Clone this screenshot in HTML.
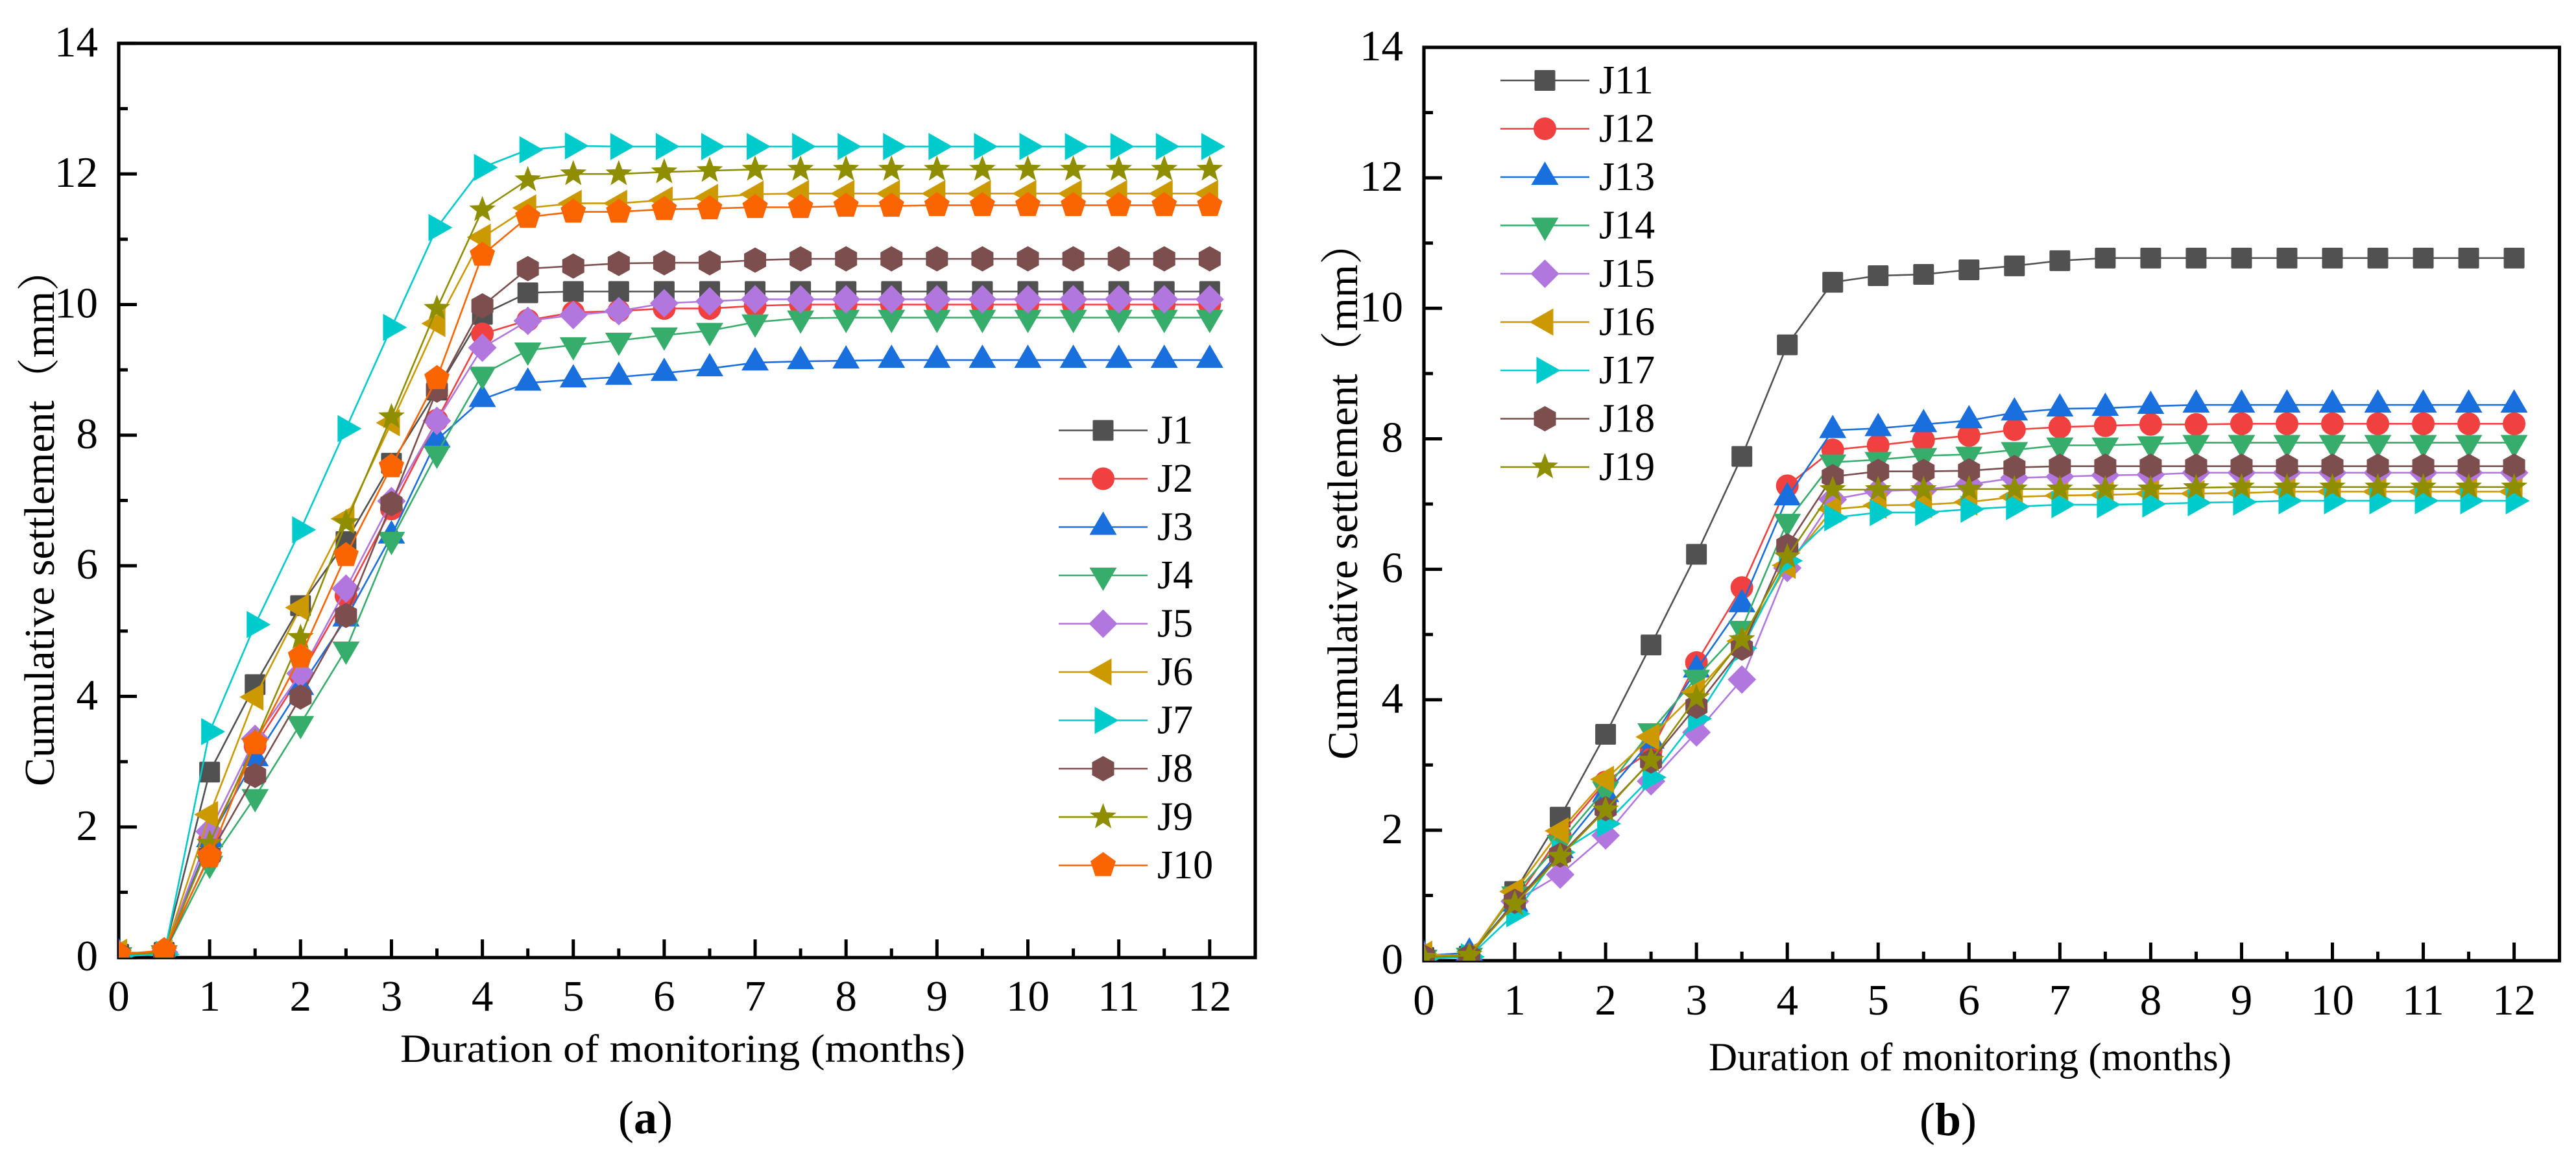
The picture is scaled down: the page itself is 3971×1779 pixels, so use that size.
<!DOCTYPE html>
<html lang="en">
<head>
<meta charset="utf-8">
<title>Cumulative settlement vs. duration of monitoring</title>
<style>
html,body{margin:0;padding:0;background:#fff;}
svg{display:block;}
text{font-family:"Liberation Serif","Noto Serif CJK SC",serif;fill:#000;}
</style>
</head>
<body>
<svg id="figure" xmlns="http://www.w3.org/2000/svg" width="3971" height="1779" viewBox="0 0 3971 1779">
  <rect x="0" y="0" width="3971" height="1779" fill="#fff"/>
  <defs>
    <clipPath id="clip-a"><rect x="183" y="66.8" width="1752" height="1409.4"/></clipPath>
    <clipPath id="clip-b"><rect x="2195" y="73" width="1750.5" height="1408"/></clipPath>
  </defs>
  <g id="panel-a"></g>
  <g id="panel-b"></g>

  <text x="617" y="1637" font-size="61" textLength="871" lengthAdjust="spacingAndGlyphs">Duration of monitoring (months)</text>
  <text transform="translate(83,1212) rotate(-90)" font-size="66" textLength="829" lengthAdjust="spacingAndGlyphs">Cumulative settlement（mm）</text>
  <text x="953" y="1747" font-size="72">(<tspan font-weight="bold">a</tspan>)</text>

  <text x="2634" y="1650" font-size="61" textLength="806" lengthAdjust="spacingAndGlyphs">Duration of monitoring (months)</text>
  <text transform="translate(2092,1171) rotate(-90)" font-size="66" textLength="829" lengthAdjust="spacingAndGlyphs">Cumulative settlement（mm）</text>
  <text x="2959" y="1750" font-size="72">(<tspan font-weight="bold">b</tspan>)</text>
</svg>
<script>
const months = [0,0.5,1,1.5,2,2.5,3,3.5,4,4.5,5,5.5,6,6.5,7,7.5,8,8.5,9,9.5,10,10.5,11,11.5,12];
const xTickMajor = [0,1,2,3,4,5,6,7,8,9,10,11,12];
const xTickMinor = [0.5,1.5,2.5,3.5,4.5,5.5,6.5,7.5,8.5,9.5,10.5,11.5];
const yTickMajor = [0,2,4,6,8,10,12,14];
const yTickMinor = [1,3,5,7,9,11,13];

const J1  = [0.05,0.08,2.84,4.18,5.39,6.37,7.57,8.69,9.85,10.18,10.2,10.2,10.2,10.2,10.2,10.2,10.2,10.2,10.2,10.2,10.2,10.2,10.2,10.2,10.2];
const J2  = [0.05,0.08,1.81,3.24,4.32,5.54,6.87,8.23,9.55,9.76,9.88,9.9,9.94,9.94,9.98,10.0,10.0,10.0,10.0,10.0,10.0,10.0,10.0,10.0,10.0];
const J3  = [0.06,0.06,1.81,3.05,4.14,5.19,6.46,7.93,8.55,8.8,8.85,8.89,8.95,9.02,9.11,9.13,9.14,9.15,9.15,9.15,9.15,9.15,9.15,9.15,9.15];
const J4  = [0.04,0.07,1.44,2.46,3.58,4.72,6.4,7.72,8.93,9.3,9.38,9.45,9.53,9.6,9.73,9.79,9.8,9.8,9.8,9.8,9.8,9.8,9.8,9.8,9.8];
const J5  = [0.05,0.08,1.93,3.35,4.35,5.65,6.99,8.22,9.34,9.75,9.84,9.9,10.02,10.05,10.08,10.08,10.08,10.08,10.08,10.08,10.08,10.08,10.08,10.08,10.08];
const J6  = [0.08,0.07,2.19,3.99,5.36,6.72,8.19,9.71,11.03,11.48,11.55,11.55,11.6,11.64,11.69,11.7,11.7,11.7,11.7,11.7,11.7,11.7,11.7,11.7,11.7];
const J7  = [0.02,0.05,3.46,5.1,6.55,8.1,9.65,11.18,12.1,12.37,12.43,12.42,12.42,12.42,12.42,12.42,12.42,12.42,12.42,12.42,12.42,12.42,12.42,12.42,12.42];
const J8  = [0.05,0.08,1.57,2.79,3.99,5.24,6.95,8.69,9.98,10.55,10.59,10.63,10.64,10.64,10.68,10.7,10.7,10.7,10.7,10.7,10.7,10.7,10.7,10.7,10.7];
const J9  = [0.05,0.08,1.75,3.3,4.9,6.66,8.28,9.94,11.45,11.91,12.0,12.0,12.03,12.05,12.07,12.07,12.07,12.07,12.07,12.07,12.07,12.07,12.07,12.07,12.07];
const J10 = [0.05,0.11,1.55,3.28,4.61,6.16,7.52,8.87,10.76,11.34,11.42,11.42,11.46,11.47,11.49,11.49,11.51,11.51,11.52,11.52,11.52,11.52,11.52,11.52,11.52];

const J11 = [0.05,0.07,1.06,2.2,3.47,4.84,6.23,7.73,9.44,10.4,10.5,10.52,10.59,10.65,10.73,10.77,10.77,10.77,10.77,10.77,10.77,10.77,10.77,10.77,10.77];
const J12 = [0.05,0.07,0.91,1.92,2.74,3.22,4.57,5.72,7.28,7.83,7.9,7.98,8.05,8.14,8.18,8.2,8.22,8.22,8.23,8.23,8.23,8.23,8.23,8.23,8.23];
const J13 = [0.08,0.12,0.87,1.69,2.55,3.37,4.46,5.46,7.1,8.13,8.16,8.22,8.28,8.4,8.46,8.47,8.5,8.52,8.52,8.52,8.52,8.52,8.52,8.52,8.52];
const J14 = [0.05,0.08,1.02,1.81,2.63,3.52,4.34,5.09,6.73,7.64,7.68,7.74,7.76,7.83,7.9,7.9,7.92,7.94,7.94,7.94,7.94,7.94,7.94,7.94,7.94];
const J15 = [0.06,0.06,0.91,1.32,1.92,2.75,3.5,4.31,6.02,7.07,7.2,7.22,7.3,7.4,7.42,7.44,7.45,7.48,7.48,7.48,7.48,7.48,7.48,7.48,7.48];
const J16 = [0.1,0.07,1.06,1.99,2.78,3.43,4.12,4.9,6.06,6.92,6.98,6.99,7.03,7.11,7.13,7.14,7.16,7.16,7.17,7.19,7.19,7.19,7.19,7.19,7.19];
const J17 = [0.03,0.06,0.72,1.66,2.1,2.81,3.71,4.79,6.13,6.79,6.87,6.87,6.92,6.96,6.99,6.99,7.0,7.02,7.03,7.05,7.05,7.05,7.05,7.05,7.05];
const J18 = [0.06,0.07,0.91,1.62,2.33,3.06,3.9,4.79,6.36,7.42,7.5,7.5,7.51,7.56,7.58,7.58,7.58,7.58,7.58,7.58,7.58,7.58,7.58,7.58,7.58];
const J19 = [0.05,0.08,0.87,1.6,2.31,3.07,4.03,4.92,6.19,7.22,7.22,7.22,7.23,7.23,7.23,7.23,7.23,7.25,7.26,7.26,7.26,7.26,7.26,7.26,7.26];

const seriesNamesA = ['J1','J2','J3','J4','J5','J6','J7','J8','J9','J10'];
const seriesValuesA = [J1,J2,J3,J4,J5,J6,J7,J8,J9,J10];
const seriesNamesB = ['J11','J12','J13','J14','J15','J16','J17','J18','J19'];
const seriesValuesB = [J11,J12,J13,J14,J15,J16,J17,J18,J19];

const palette = ['#515151','#F14040','#1A6FDF','#37AD6B','#B177DE','#CC9900','#00CBCC','#7D4E4E','#8E8E00','#FB6501'];
const shapes = ['square','circle','up','down','diamond','left','right','hexagon','star','pentagon'];

const NS = 'http://www.w3.org/2000/svg';

function regularPolygon(n, r, startDeg) {
  const pts = [];
  for (let i = 0; i < n; i++) {
    const a = (startDeg + i * 360 / n) * Math.PI / 180;
    pts.push((r * Math.cos(a)).toFixed(2) + ',' + (r * Math.sin(a)).toFixed(2));
  }
  return pts.join(' ');
}
function starPolygon(rOuter, rInner) {
  const pts = [];
  for (let i = 0; i < 10; i++) {
    const a = (-90 + i * 36) * Math.PI / 180;
    const r = i % 2 === 0 ? rOuter : rInner;
    pts.push((r * Math.cos(a)).toFixed(2) + ',' + (r * Math.sin(a)).toFixed(2));
  }
  return pts.join(' ');
}
const shapePoints = {
  up: '0,-24 21,12 -21,12',
  down: '0,24 21,-12 -21,-12',
  left: '-24,0 13,-21 13,21',
  right: '24,0 -13,-21 -13,21',
  diamond: '0,-22 22,0 0,22 -22,0',
  hexagon: '0,-19.5 17,-10 17,10 0,19.5 -17,10 -17,-10',
  pentagon: regularPolygon(5, 20.5, -90),
  star: starPolygon(21.5, 9)
};

function makeMarker(shape, colour, px, py) {
  let el;
  if (shape === 'square') {
    el = document.createElementNS(NS, 'rect');
    el.setAttribute('x', -16);
    el.setAttribute('y', -16);
    el.setAttribute('width', 32);
    el.setAttribute('height', 32);
    el.setAttribute('rx', 2);
  } else if (shape === 'circle') {
    el = document.createElementNS(NS, 'circle');
    el.setAttribute('r', 17.5);
  } else {
    el = document.createElementNS(NS, 'polygon');
    el.setAttribute('points', shapePoints[shape]);
  }
  el.setAttribute('fill', colour);
  el.setAttribute('transform', 'translate(' + px.toFixed(2) + ',' + py.toFixed(2) + ')');
  return el;
}

function drawLine(parent, x1, y1, x2, y2, width, colour) {
  const el = document.createElementNS(NS, 'line');
  el.setAttribute('x1', x1);
  el.setAttribute('y1', y1);
  el.setAttribute('x2', x2);
  el.setAttribute('y2', y2);
  el.setAttribute('stroke', colour);
  el.setAttribute('stroke-width', width);
  parent.appendChild(el);
  return el;
}

function drawPanel(panelId, clipId, frame, names, values) {
  const root = document.getElementById(panelId);
  const xScale = v => frame.x0 + frame.xUnit * v;
  const yScale = v => frame.y0 - frame.yUnit * v;

  const axes = document.createElementNS(NS, 'g');
  
  
  root.appendChild(axes);

  const frameRect = document.createElementNS(NS, 'rect');
  frameRect.setAttribute('x', frame.x0);
  frameRect.setAttribute('y', yScale(14));
  frameRect.setAttribute('width', frame.right - frame.x0);
  frameRect.setAttribute('height', frame.y0 - yScale(14));
  frameRect.setAttribute('fill', 'none');
  frameRect.setAttribute('stroke', '#000');
  frameRect.setAttribute('stroke-width', 5.2);
  
  
  axes.appendChild(frameRect);

  xTickMajor.forEach(v => {
    const tick = drawLine(axes, xScale(v), frame.y0, xScale(v), frame.y0 - 28, 5, '#000');
    
    
    const label = document.createElementNS(NS, 'text');
    label.setAttribute('x', xScale(v));
    label.setAttribute('y', frame.xLabelY);
    label.setAttribute('font-size', 67);
    label.setAttribute('text-anchor', 'middle');
    
    
    label.textContent = String(v);
    axes.appendChild(label);
  });
  xTickMinor.forEach(v => {
    const tick = drawLine(axes, xScale(v), frame.y0, xScale(v), frame.y0 - 14, 5, '#000');
    
    
  });
  yTickMajor.forEach(v => {
    const tick = drawLine(axes, frame.x0, yScale(v), frame.x0 + 28, yScale(v), 5, '#000');
    
    
    const label = document.createElementNS(NS, 'text');
    label.setAttribute('x', frame.yLabelX);
    label.setAttribute('y', yScale(v) + 20);
    label.setAttribute('font-size', 67);
    label.setAttribute('text-anchor', 'end');
    
    
    label.textContent = String(v);
    axes.appendChild(label);
  });
  yTickMinor.forEach(v => {
    const tick = drawLine(axes, frame.x0, yScale(v), frame.x0 + 14, yScale(v), 5, '#000');
    
    
  });

  const plot = document.createElementNS(NS, 'g');
  plot.setAttribute('clip-path', 'url(#' + clipId + ')');
  
  
  root.appendChild(plot);

  names.forEach((name, s) => {
    const group = document.createElementNS(NS, 'g');
    
    
    plot.appendChild(group);

    const line = document.createElementNS(NS, 'polyline');
    line.setAttribute('points', months.map((m, i) => xScale(m).toFixed(2) + ',' + yScale(values[s][i]).toFixed(2)).join(' '));
    line.setAttribute('fill', 'none');
    line.setAttribute('stroke', palette[s]);
    line.setAttribute('stroke-width', 2.6);
    
    
    group.appendChild(line);

    months.forEach((m, i) => {
      const marker = makeMarker(shapes[s], palette[s], xScale(m), yScale(values[s][i]));
      
      
      group.appendChild(marker);
    });
  });

  const legend = document.createElementNS(NS, 'g');
  
  
  root.appendChild(legend);

  names.forEach((name, s) => {
    const rowY = frame.legendY + s * 74.5;
    const entry = document.createElementNS(NS, 'g');
    
    
    legend.appendChild(entry);

    drawLine(entry, frame.legendX1, rowY, frame.legendX2, rowY, 2.6, palette[s]);
    entry.appendChild(makeMarker(shapes[s], palette[s], (frame.legendX1 + frame.legendX2) / 2, rowY));

    const label = document.createElementNS(NS, 'text');
    label.setAttribute('x', frame.legendX2 + 15);
    label.setAttribute('y', rowY + 20);
    label.setAttribute('font-size', 62);
    
    
    label.textContent = name;
    entry.appendChild(label);
  });
}

drawPanel('panel-a', 'clip-a',
  {x0: 183, xUnit: 140.15, y0: 1476.2, yUnit: 100.67, right: 1935, xLabelY: 1558, yLabelX: 151, legendY: 663.5, legendX1: 1632, legendX2: 1769},
  seriesNamesA, seriesValuesA);
drawPanel('panel-b', 'clip-b',
  {x0: 2195, xUnit: 140.05, y0: 1481, yUnit: 100.57, right: 3945.5, xLabelY: 1564, yLabelX: 2163, legendY: 124, legendX1: 2313, legendX2: 2450},
  seriesNamesB, seriesValuesB);
</script>
</body>
</html>
